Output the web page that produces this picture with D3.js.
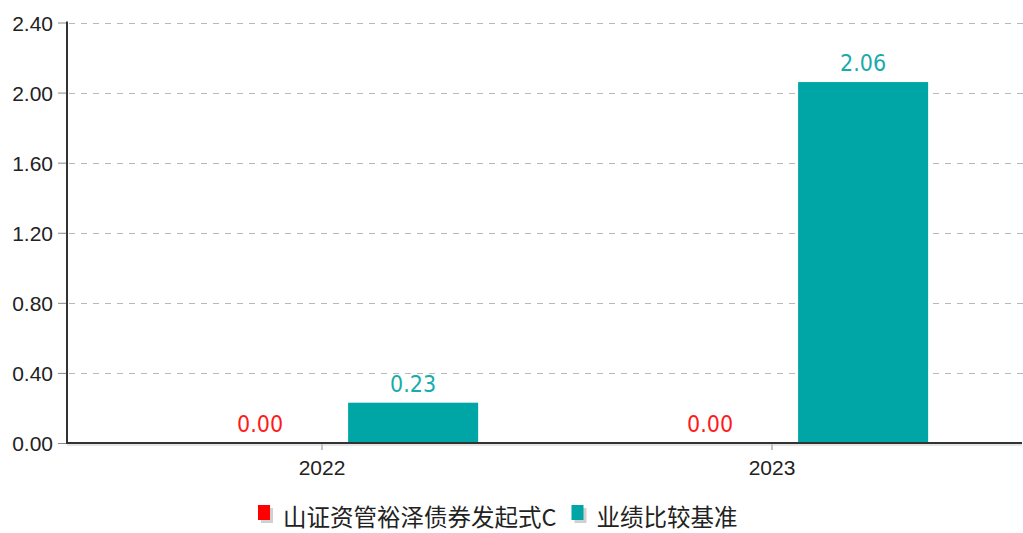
<!DOCTYPE html>
<html>
<head>
<meta charset="utf-8">
<script src="https://cdn.jsdelivr.net/npm/d3@7/dist/d3.min.js"></script>
<style>
body { margin: 0; background: #fff; }
svg { display: block; }
</style>
</head>
<body>
<div id="ChartDiv"></div>
<script>
var years = ['2022', '2023'];
var series = ['山证资管裕泽债券发起式C', '业绩比较基准'];
var fundValues = [0.00, 0.00];
var benchValues = [0.23, 2.06];
var yTicks = [0, 0.4, 0.8, 1.2, 1.6, 2.0, 2.4];
var colors = ['#ff0000', '#00a6a6'];
var labelColors = ['#ff1a1a', '#1aabab'];

var W = 1023, H = 533;
var svg = d3.select('#ChartDiv').append('svg')
    .attr('width', W)
    .attr('height', H);

var plotL = 67, plotR = 1022, plotT = 22.5, plotB = 443;

var y = d3.scaleLinear().domain([0, 2.4]).range([plotB, plotT]);
var x0 = d3.scaleBand().domain(years).range([72, plotR]).paddingOuter(0.0556);
var bw = x0.bandwidth();
var x1 = d3.scaleBand().domain(series).range([bw * 0.218, bw * 0.847]).paddingInner(0.15);

// grid
svg.append('g').selectAll('line')
    .data(yTicks.filter(function (d) { return d > 0; }))
    .enter().append('line')
    .attr('x1', plotL + 2).attr('x2', W)
    .attr('y1', function (d) { return Math.round(y(d)) + 0.5; })
    .attr('y2', function (d) { return Math.round(y(d)) + 0.5; })
    .attr('stroke', '#b8b8b8')
    .attr('stroke-dasharray', '6,6');

// y axis
var yAxis = d3.axisLeft(y).tickValues(yTicks).tickSize(9).tickPadding(5)
    .tickFormat(d3.format('.2f'));
var gy = svg.append('g').attr('transform', 'translate(' + plotL + ',0)').call(yAxis);
gy.select('.domain').remove();
gy.selectAll('.tick line').attr('stroke', '#888');
gy.selectAll('.tick text')
    .attr('fill', '#222')
    .style('font-family', '"Liberation Sans", Arial, sans-serif')
    .style('font-size', '21px')
    .attr('dy', '0.36em');

// x axis
var xAxis = d3.axisBottom(x0).tickSize(7).tickPadding(10);
var gx = svg.append('g').attr('transform', 'translate(0,' + plotB + ')').call(xAxis);
gx.select('.domain').remove();
gx.selectAll('.tick line').attr('stroke', '#888');
gx.selectAll('.tick text')
    .attr('fill', '#222')
    .style('font-family', '"Liberation Sans", Arial, sans-serif')
    .style('font-size', '21px');

// bars
var rows = years.map(function (yr, i) {
    return { year: yr, vals: [fundValues[i], benchValues[i]] };
});
var groups = svg.append('g').selectAll('g')
    .data(rows)
    .enter().append('g')
    .attr('transform', function (d) { return 'translate(' + x0(d.year) + ',0)'; });

groups.selectAll('rect')
    .data(function (d) { return d.vals.map(function (v, j) { return { s: series[j], v: v, j: j }; }); })
    .enter().append('rect')
    .attr('x', function (d) { return x1(d.s); })
    .attr('width', x1.bandwidth())
    .attr('y', function (d) { return y(d.v); })
    .attr('height', function (d) { return plotB - y(d.v); })
    .attr('fill', function (d) { return colors[d.j]; });

groups.selectAll('text')
    .data(function (d) { return d.vals.map(function (v, j) { return { s: series[j], v: v, j: j }; }); })
    .enter().append('text')
    .attr('x', function (d) { return x1(d.s) + x1.bandwidth() / 2; })
    .attr('y', function (d) { return y(d.v) - 11; })
    .attr('text-anchor', 'middle')
    .attr('fill', function (d) { return labelColors[d.j]; })
    .style('font-family', '"DejaVu Sans Condensed", "Liberation Sans Narrow", sans-serif')
    .style('font-weight', '300')
    .style('font-size', '23px')
    .text(function (d) { return d3.format('.2f')(d.v); });

// axis lines
svg.append('line')
    .attr('x1', plotL).attr('x2', plotL).attr('y1', plotT - 1).attr('y2', plotB + 1)
    .attr('stroke', '#333').attr('stroke-width', 2);
svg.append('line')
    .attr('x1', plotL).attr('x2', plotR).attr('y1', plotB + 2).attr('y2', plotB + 2)
    .attr('stroke', '#ccc').attr('stroke-width', 1);
svg.append('line')
    .attr('x1', plotL).attr('x2', plotR).attr('y1', plotB).attr('y2', plotB)
    .attr('stroke', '#333').attr('stroke-width', 2);

// legend
var lg = svg.append('g').attr('transform', 'translate(258,505)');
var lx = 0;
series.forEach(function (name, i) {
    var item = lg.append('g').attr('transform', 'translate(' + lx + ',0)');
    item.append('rect').attr('x', 3).attr('y', 3).attr('width', 12).attr('height', 15).attr('fill', '#d0d0d0');
    item.append('rect').attr('x', 0).attr('y', 0).attr('width', 12).attr('height', 15).attr('fill', colors[i]);
    var t = item.append('text')
        .attr('x', 25).attr('y', 21)
        .attr('fill', '#222')
        .style('font-family', '"Noto Sans CJK SC", sans-serif')
        .style('font-size', '23.5px')
        .text(name);
    lx += 25 + t.node().getComputedTextLength() + 15;
});
</script>
</body>
</html>
